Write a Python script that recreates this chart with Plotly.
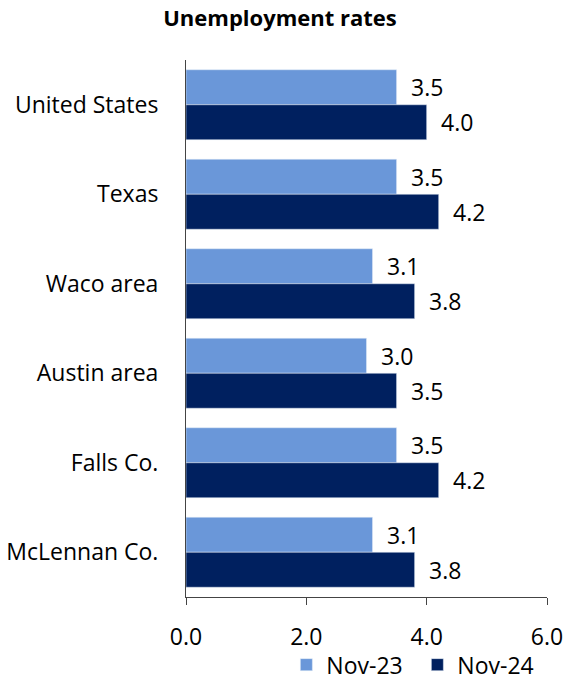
import plotly.graph_objects as go

categories = ["United States", "Texas", "Waco area", "Austin area", "Falls Co.", "McLennan Co."]
nov23 = [3.5, 3.5, 3.1, 3.0, 3.5, 3.1]
nov24 = [4.0, 4.2, 3.8, 3.5, 4.2, 3.8]
series_names = ["Nov-23", "Nov-24"]
tick_vals = [0, 2, 4, 6]
tick_text = ["0.0", "2.0", "4.0", "6.0"]

light = "#6a97d9"
dark = "#00205f"
FONT = "Open Sans"
FS = 23

W, H = 567, 679

fig = go.Figure()
fig.add_trace(go.Bar(y=categories, x=nov23, name=series_names[0], orientation="h",
                     marker=dict(color=light)))
fig.add_trace(go.Bar(y=categories, x=nov24, name=series_names[1], orientation="h",
                     marker=dict(color=dark)))

annotations = []
for vals, shift in ((nov23, 17.5), (nov24, -17.5)):
    for c, v in zip(categories, vals):
        annotations.append(dict(x=v, y=c, xref="x", yref="y", text=f"{v:.1f}",
                                showarrow=False, xanchor="left", yanchor="middle",
                                xshift=12, yshift=shift,
                                font=dict(family=FONT, size=FS, color="#000")))

fig.update_layout(
    width=W, height=H,
    margin=dict(l=186, r=20, t=60, b=82, pad=0, autoexpand=False),
    paper_bgcolor="white", plot_bgcolor="white",
    barmode="group", bargap=0.218, bargroupgap=0,
    title=dict(text="<b>Unemployment rates</b>", x=280 / W, xref="container", xanchor="center",
               y=1 - 18 / H, yref="container", yanchor="middle",
               font=dict(family=FONT, size=22, color="#000"), automargin=False),
    font=dict(family=FONT, size=FS, color="#000"),
    showlegend=True,
    legend=dict(orientation="h", x=0.278, xanchor="left", y=-0.086, yanchor="top",
                bgcolor="rgba(0,0,0,0)", font=dict(family=FONT, size=FS, color="#000"),
                entrywidth=86, entrywidthmode="pixels",
                traceorder="normal"),
    annotations=annotations,
)
fig.update_xaxes(range=[0, 6], tickvals=tick_vals, ticktext=tick_text, automargin=False,
                 showgrid=False, zeroline=False, showline=True, linecolor="#444", linewidth=1,
                 ticks="outside", ticklen=7, tickcolor="#444", ticklabelstandoff=12,
                 tickfont=dict(family=FONT, size=FS, color="#000"))
fig.update_yaxes(autorange="reversed", showgrid=False, zeroline=False, automargin=False,
                 showline=True, linecolor="#444", linewidth=1, ticks="",
                 ticklabelstandoff=22,
                 tickfont=dict(family=FONT, size=FS, color="#000"))

fig.write_html("out.html", config={"displayModeBar": False},
               post_script="document.body.style.margin='0px';document.body.style.overflow='hidden';")
